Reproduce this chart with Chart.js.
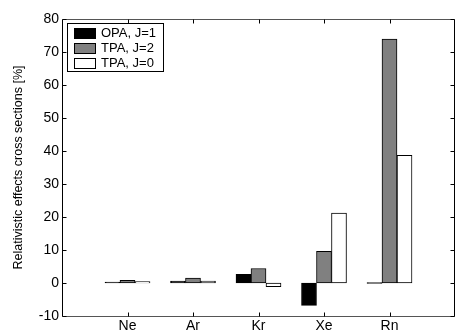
<!DOCTYPE html>
<html>
<head>
<meta charset="utf-8">
<script src="https://cdn.jsdelivr.net/npm/chart.js@4"></script>
<style>
  html, body { margin: 0; padding: 0; background: #fff; }
  #wrap { width: 457px; height: 331px; }
</style>
</head>
<body>
<div id="wrap"><canvas id="myChart" width="457" height="331"></canvas></div>
<script>
// Datos
const gases = ['', 'Ne', 'Ar', 'Kr', 'Xe', 'Rn', ''];
const opaJ1 = [null, 0.3, 0.6, 2.6, -6.8, 0, null];
const tpaJ2 = [null, 0.8, 1.5, 4.4, 9.6, 73.9, null];
const tpaJ0 = [null, 0.4, 0.6, -1.1, 21.2, 38.7, null];
const yTicks = [-10, 0, 10, 20, 30, 40, 50, 60, 70, 80];

const font = 'Liberation Sans, Arial, Helvetica, sans-serif';

// caja, ticks hacia adentro y leyenda tipo matlab
const matlabFrame = {
    id: 'matlabFrame',
    afterDatasetsDraw(chart) {
        const c = chart.ctx;
        const a = chart.chartArea;
        const x = chart.scales.x, y = chart.scales.y;
        const L = Math.round(a.left) + 0.5, R = Math.round(a.right) - 0.5;
        const T = Math.round(a.top) + 0.5, B = Math.round(a.bottom) + 0.5;
        c.save();
        c.lineWidth = 1;
        // lineas horizontales un poco mas claras
        c.strokeStyle = '#555';
        c.beginPath();
        c.moveTo(L, T); c.lineTo(R, T);
        c.moveTo(L, B); c.lineTo(R, B);
        c.stroke();
        c.strokeStyle = '#000';
        c.beginPath();
        c.moveTo(L, T); c.lineTo(L, B);
        c.moveTo(R, T); c.lineTo(R, B);
        yTicks.forEach(v => {
            const py = Math.round(y.getPixelForValue(v)) + 0.5;
            c.moveTo(L, py); c.lineTo(L + 4, py);
            c.moveTo(R, py); c.lineTo(R - 4, py);
        });
        gases.forEach((g, i) => {
            if (!g) return;
            const px = Math.round(x.getPixelForValue(i)) + 0.5;
            c.moveTo(px, B); c.lineTo(px, B - 4);
            c.moveTo(px, T); c.lineTo(px, T + 4);
        });
        c.stroke();

        // leyenda
        const lx = 67.5, ly = 23.5, lw = 96, lh = 48;
        c.fillStyle = '#fff';
        c.fillRect(lx, ly, lw, lh);
        c.strokeRect(lx, ly, lw, lh);
        c.font = '13px ' + font;
        c.textBaseline = 'middle';
        chart.data.datasets.forEach((ds, i) => {
            const ry = 28 + i * 15;
            c.fillStyle = ds.backgroundColor;
            c.fillRect(74.5, ry + 0.5, 21, 10);
            c.strokeRect(74.5, ry + 0.5, 21, 10);
            c.fillStyle = '#000';
            c.fillText(ds.label, 101, ry + 5.5);
        });
        c.restore();
    }
};

const ctx = document.getElementById('myChart');
new Chart(ctx, {
    type: 'bar',
    data: {
        labels: gases,
        datasets: [
            { label: 'OPA, J=1', data: opaJ1, backgroundColor: '#000000' },
            { label: 'TPA, J=2', data: tpaJ2, backgroundColor: '#808080' },
            { label: 'TPA, J=0', data: tpaJ0, backgroundColor: '#ffffff' }
        ]
    },
    options: {
        responsive: false,
        animation: false,
        devicePixelRatio: 1,
        layout: { padding: { left: 0, right: 1, top: 19, bottom: 0 } },
        datasets: {
            bar: {
                barThickness: 15,
                borderColor: '#000',
                borderWidth: 1,
                borderSkipped: false,
                minBarLength: 1
            }
        },
        plugins: {
            legend: { display: false },
            tooltip: { enabled: false }
        },
        scales: {
            x: {
                offset: false,
                grid: { display: false, drawTicks: false },
                border: { display: false },
                ticks: { color: '#000', font: { family: font, size: 14 }, padding: 2, maxRotation: 0, autoSkip: false },
                afterFit: s => { s.height = 15; }
            },
            y: {
                min: -10,
                max: 80,
                grid: { display: false, drawTicks: false },
                border: { display: false },
                ticks: { stepSize: 10, color: '#000', font: { family: font, size: 14 }, padding: 3 },
                title: {
                    display: true,
                    text: 'Relativistic effects cross sections [%]',
                    color: '#000',
                    font: { family: font, size: 12.5 },
                    padding: { top: 11, bottom: 0 }
                },
                afterFit: s => { s.width = 62; }
            }
        }
    },
    plugins: [matlabFrame]
});
</script>
</body>
</html>
